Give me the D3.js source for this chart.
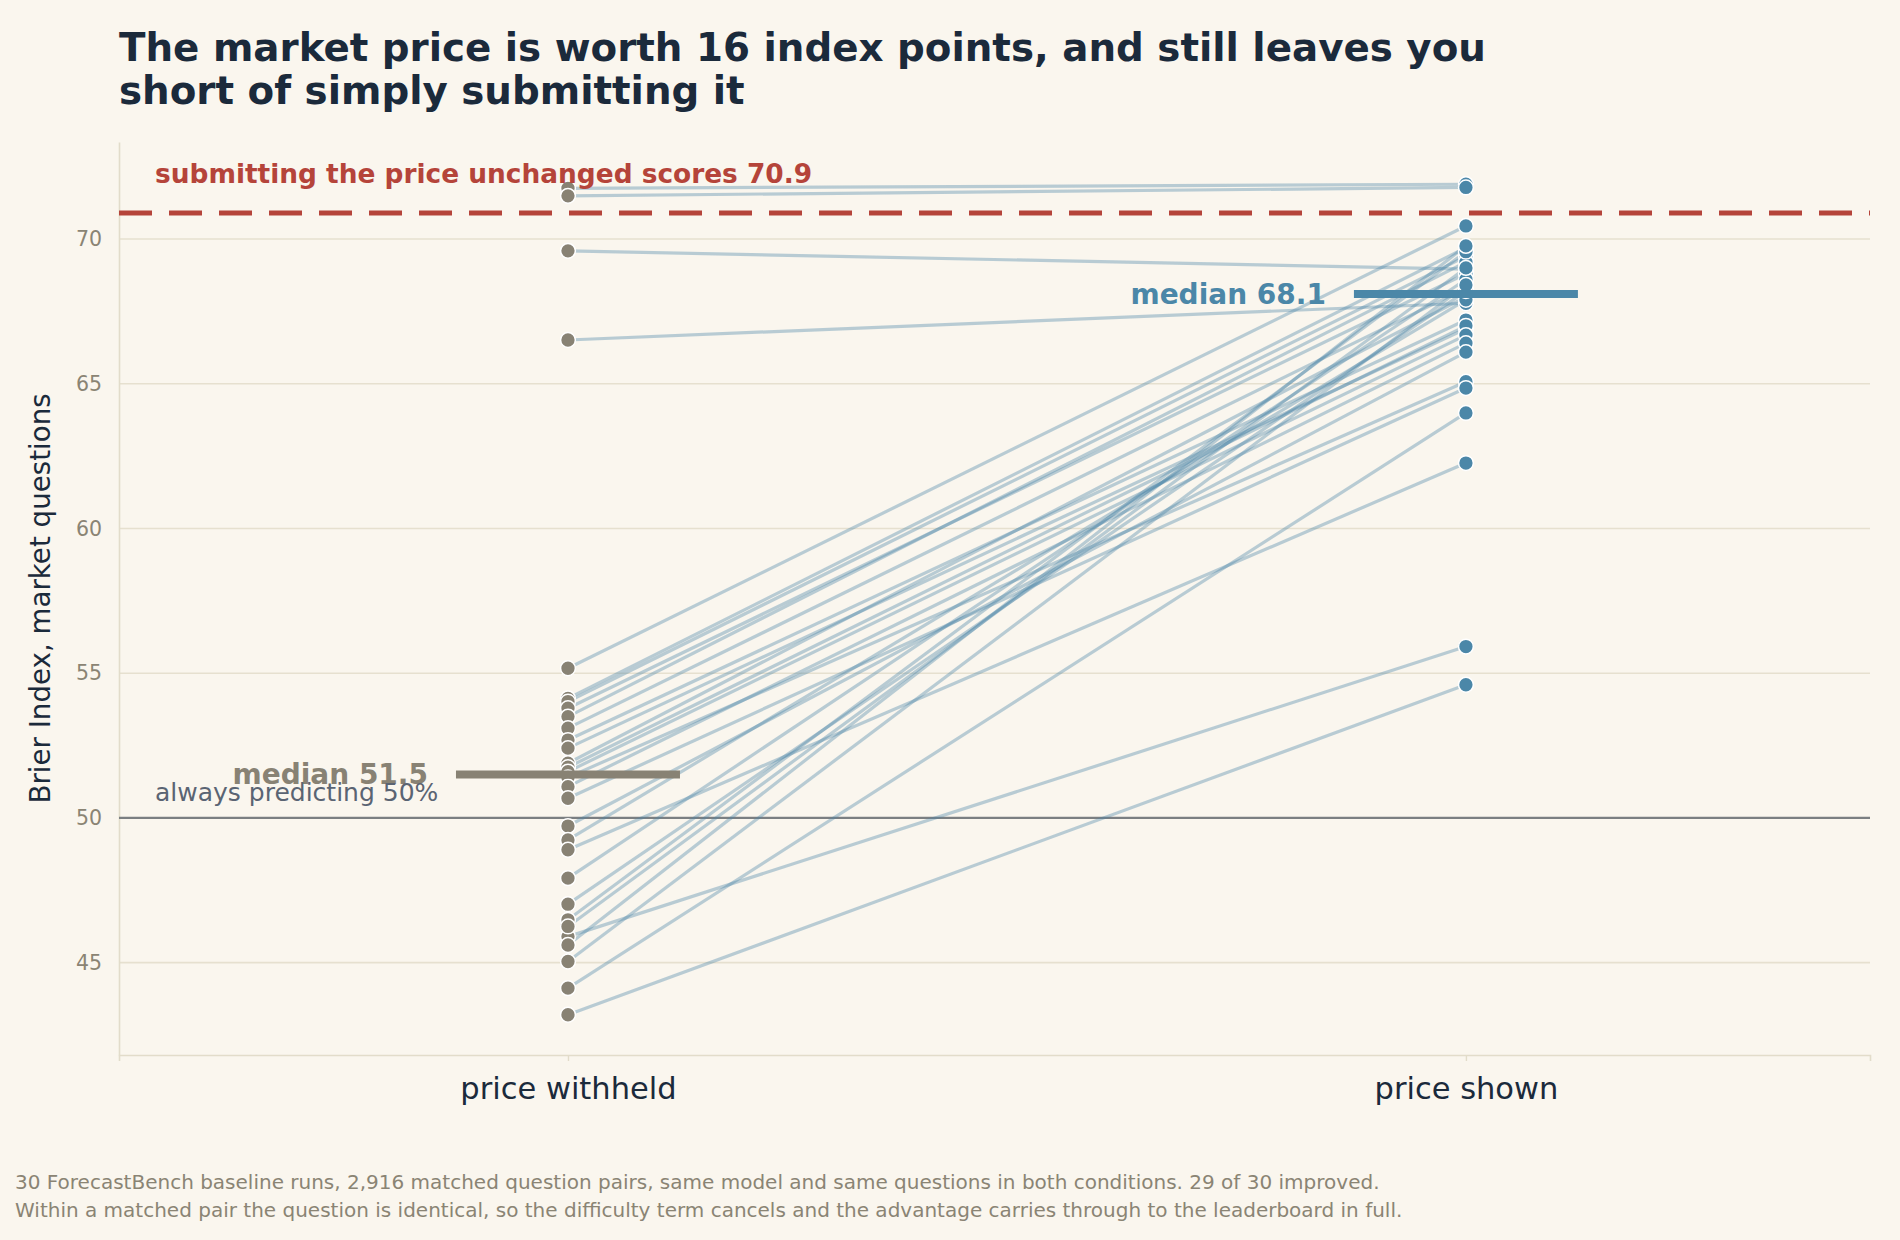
<!DOCTYPE html>
<html>
<head>
  <meta charset="UTF-8">
  <title>Market price slope chart</title>
  <script src="https://cdn.jsdelivr.net/npm/d3@7/dist/d3.min.js"></script>
  <style>
    html, body { margin: 0; padding: 0; background: #faf6ee; }
    text { font-family: "DejaVu Sans", sans-serif; }
  </style>
</head>
<body>
<script>
  // data
  var conditions = ["price withheld", "price shown"];
  var withheld = [71.75, 71.49, 69.59, 66.51, 43.20, 45.90, 44.12, 55.17, 54.13, 54.02,
                  53.79, 53.50, 53.10, 52.69, 52.41, 51.89, 51.75, 51.60, 51.40, 51.08,
                  50.68, 49.72, 49.24, 48.90, 47.92, 47.02, 46.48, 46.25, 45.61, 45.04];
  var shown    = [71.89, 71.78, 68.96, 67.78, 54.60, 55.92, 63.99, 70.45, 69.70, 69.40,
                  68.80, 69.20, 68.30, 67.20, 66.90, 68.00, 67.00, 66.68, 65.07, 66.40,
                  64.85, 66.09, 67.90, 62.26, 68.60, 68.20, 69.56, 69.00, 69.76, 68.41];
  var medians = [51.5, 68.1];
  var yTicks = [45, 50, 55, 60, 65, 70];
  var submitScore = 70.9;
  var chanceScore = 50;

  var width = 1900, height = 1240;
  var m = {left: 119, right: 1870, top: 142, bottom: 1055};

  var grey = "#888274", blue = "#4b87a8", red = "#b5443a", ink = "#1b2a3b";

  var svg = d3.select("body").append("svg")
    .attr("width", width)
    .attr("height", height)
    .style("background", "#faf6ee");

  var x = d3.scaleLinear().domain([-0.5, 1.45]).range([m.left, m.right]);
  var y = d3.scaleLinear().domain([41.81, 73.35]).range([m.bottom, m.top]);

  // gridlines
  svg.append("g").selectAll("line")
    .data(yTicks)
    .enter().append("line")
    .attr("x1", m.left).attr("x2", m.right)
    .attr("y1", function (d) { return y(d); })
    .attr("y2", function (d) { return y(d); })
    .style("stroke", "#e6e0cf")
    .style("stroke-width", 1.6);

  // y axis
  var yAxis = svg.append("g")
    .attr("transform", "translate(" + m.left + ",0)")
    .call(d3.axisLeft(y).tickValues(yTicks).tickSize(0).tickPadding(17));
  yAxis.select(".domain").style("stroke", "#e2dcca").style("stroke-width", 1.6);
  yAxis.selectAll("text")
    .style("font-family", "DejaVu Sans")
    .style("font-size", "20.5px")
    .style("fill", "#8a8474");

  // x axis
  var xAxis = svg.append("g")
    .attr("transform", "translate(0," + m.bottom + ")")
    .call(d3.axisBottom(x).tickValues([0, 1]).tickSize(6).tickPadding(16)
      .tickFormat(function (d) { return conditions[d]; }));
  xAxis.select(".domain").style("stroke", "#e2dcca").style("stroke-width", 1.6);
  xAxis.selectAll(".tick line").style("stroke", "#e2dcca").style("stroke-width", 1.4);
  xAxis.selectAll("text")
    .style("font-family", "DejaVu Sans")
    .style("font-size", "30.5px")
    .style("fill", ink);

  // reference lines
  svg.append("line")
    .attr("x1", m.left).attr("x2", m.right)
    .attr("y1", y(chanceScore)).attr("y2", y(chanceScore))
    .style("stroke", "#7b7f82")
    .style("stroke-width", 2.2);

  svg.append("line")
    .attr("x1", m.left).attr("x2", m.right)
    .attr("y1", y(submitScore)).attr("y2", y(submitScore))
    .style("stroke", red)
    .style("stroke-width", 5)
    .style("stroke-dasharray", "33,17");

  // paired lines
  var pairs = withheld.map(function (d, i) { return [d, shown[i]]; });

  svg.append("g").selectAll("line")
    .data(pairs)
    .enter().append("line")
    .attr("x1", x(0)).attr("x2", x(1))
    .attr("y1", function (d) { return y(d[0]); })
    .attr("y2", function (d) { return y(d[1]); })
    .style("stroke", blue)
    .style("stroke-opacity", 0.38)
    .style("stroke-width", 3.2);

  // dots
  [withheld, shown].forEach(function (vals, k) {
    svg.append("g").selectAll("circle")
      .data(vals)
      .enter().append("circle")
      .attr("cx", x(k))
      .attr("cy", function (d) { return y(d); })
      .attr("r", 7.4)
      .style("fill", k == 0 ? grey : blue)
      .style("stroke", "white")
      .style("stroke-width", 1.5);
  });

  // medians
  medians.forEach(function (md, k) {
    var col = k == 0 ? grey : blue;
    svg.append("line")
      .attr("x1", x(k) - 112).attr("x2", x(k) + 112)
      .attr("y1", y(md)).attr("y2", y(md))
      .style("stroke", col)
      .style("stroke-width", 8);
    svg.append("text")
      .attr("x", x(k) - 140)
      .attr("y", y(md))
      .attr("dy", "0.35em")
      .style("text-anchor", "end")
      .style("font-size", "28px")
      .style("font-weight", "bold")
      .style("fill", col)
      .text("median " + md.toFixed(1));
  });

  svg.append("text")
    .attr("x", 155).attr("y", y(submitScore) - 30)
    .style("font-size", "26.4px")
    .style("font-weight", "bold")
    .style("fill", red)
    .text("submitting the price unchanged scores " + submitScore.toFixed(1));

  svg.append("text")
    .attr("x", 155).attr("y", y(chanceScore) - 17)
    .style("font-size", "25px")
    .style("fill", "#5a6473")
    .text("always predicting 50%");

  // y label
  svg.append("text")
    .attr("transform", "translate(50," + (m.top + m.bottom) / 2 + ") rotate(-90)")
    .style("text-anchor", "middle")
    .style("font-size", "27.7px")
    .style("fill", ink)
    .text("Brier Index, market questions");

  // title
  var title = ["The market price is worth 16 index points, and still leaves you",
               "short of simply submitting it"];
  svg.append("g").selectAll("text")
    .data(title)
    .enter().append("text")
    .attr("x", 119)
    .attr("y", function (d, i) { return 61 + i * 43; })
    .style("font-size", "38.8px")
    .style("font-weight", "bold")
    .style("fill", ink)
    .text(function (d) { return d; });

  // footer
  var notes = ["30 ForecastBench baseline runs, 2,916 matched question pairs, same model and same questions in both conditions. 29 of 30 improved.",
               "Within a matched pair the question is identical, so the difficulty term cancels and the advantage carries through to the leaderboard in full."];
  svg.append("g").selectAll("text")
    .data(notes)
    .enter().append("text")
    .attr("x", 15)
    .attr("y", function (d, i) { return 1189 + i * 28; })
    .style("font-size", "20px")
    .style("fill", "#8a8474")
    .text(function (d) { return d; });
</script>
</body>
</html>
